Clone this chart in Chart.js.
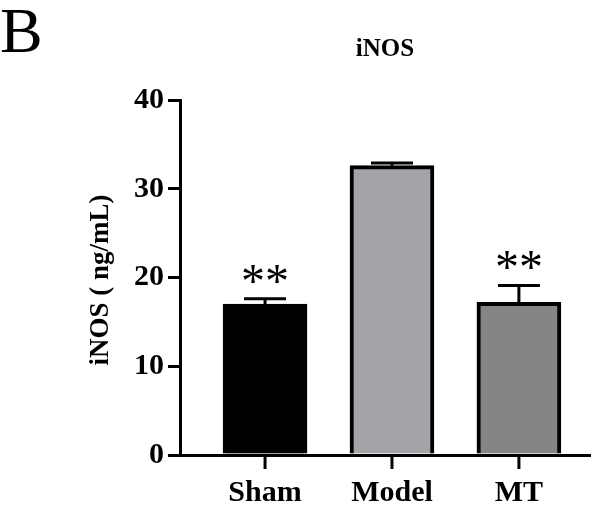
<!DOCTYPE html>
<html>
<head>
<meta charset="utf-8">
<script src="https://cdn.jsdelivr.net/npm/chart.js@4"></script>
<style>
  body { margin: 0; background: #fff; }
  #wrap { width: 598px; height: 512px; }
</style>
</head>
<body>
<div id="wrap"><canvas id="c"></canvas></div>
<script>
const categories = ['Sham', 'Model', 'MT'];
const means = [17.0, 32.6, 17.2];
const errors = [0.6, 0.3, 1.9];
const marks = ['**', '', '**'];
const barColors = ['#000000', '#a4a4a8', '#858585'];
const yTicks = [0, 10, 20, 30, 40];

const serif = 'Liberation Serif';

// error bars, stars, x tick marks and titles
const extras = {
    id: 'extras',
    afterDatasetsDraw(chart) {
        const ctx = chart.ctx;
        const x = chart.scales.x, y = chart.scales.y;
        ctx.save();
        ctx.strokeStyle = '#000';
        ctx.lineWidth = 3;
        means.forEach((m, i) => {
            const cx = x.getPixelForValue(i);
            const top = y.getPixelForValue(m + errors[i]);
            ctx.beginPath();
            ctx.moveTo(cx, y.getPixelForValue(m));
            ctx.lineTo(cx, top);
            ctx.moveTo(cx - 21, top);
            ctx.lineTo(cx + 21, top);
            ctx.moveTo(cx, x.top);
            ctx.lineTo(cx, x.top + 14);
            ctx.stroke();
            if (marks[i]) {
                ctx.fillStyle = '#000';
                ctx.font = '48px ' + serif;
                ctx.textAlign = 'center';
                ctx.textBaseline = 'alphabetic';
                ctx.fillText(marks[i], cx, top - 2);
            }
        });
        ctx.fillStyle = '#000';
        ctx.textAlign = 'center';
        ctx.font = 'bold 25px ' + serif;
        ctx.fillText('iNOS', 385, 56);
        ctx.textAlign = 'left';
        ctx.font = '64px ' + serif;
        ctx.fillText('B', 0, 52);
        ctx.translate(108, 280);
        ctx.rotate(-Math.PI / 2);
        ctx.textAlign = 'center';
        ctx.font = 'bold 27px ' + serif;
        ctx.fillText('iNOS ( ng/mL)', 0, 0);
        ctx.restore();
    }
};

new Chart(document.getElementById('c'), {
    type: 'bar',
    data: {
        datasets: [{
            data: means.map((v, i) => ({ x: i, y: v })),
            backgroundColor: barColors,
            borderColor: '#000',
            borderWidth: 4,
            borderSkipped: 'bottom',
            barThickness: 84
        }]
    },
    options: {
        responsive: true,
        maintainAspectRatio: false,
        animation: false,
        layout: { padding: { left: 0, top: 100, right: 8, bottom: 0 } },
        plugins: { legend: { display: false }, tooltip: { enabled: false } },
        scales: {
            x: {
                type: 'linear',
                offset: false,
                min: -0.67,
                max: 2.56,
                afterBuildTicks: s => { s.ticks = categories.map((c, i) => ({ value: i })); },
                afterFit: s => { s.height = 57; },
                ticks: {
                    callback: v => categories[v],
                    color: '#000',
                    font: { family: serif, size: 30, weight: 'bold' },
                    padding: 12
                },
                grid: { display: false },
                border: { color: '#000', width: 3 }
            },
            y: {
                min: 0,
                max: 40,
                afterBuildTicks: s => { s.ticks = yTicks.map(v => ({ value: v })); },
                afterFit: s => { s.width = 180; },
                ticks: {
                    color: '#000',
                    font: { family: serif, size: 30, weight: 'bold' },
                    padding: 4
                },
                grid: { drawOnChartArea: false, drawTicks: true, tickLength: 12, lineWidth: 3, color: '#000' },
                border: { color: '#000', width: 3 }
            }
        }
    },
    plugins: [extras]
});
</script>
</body>
</html>
